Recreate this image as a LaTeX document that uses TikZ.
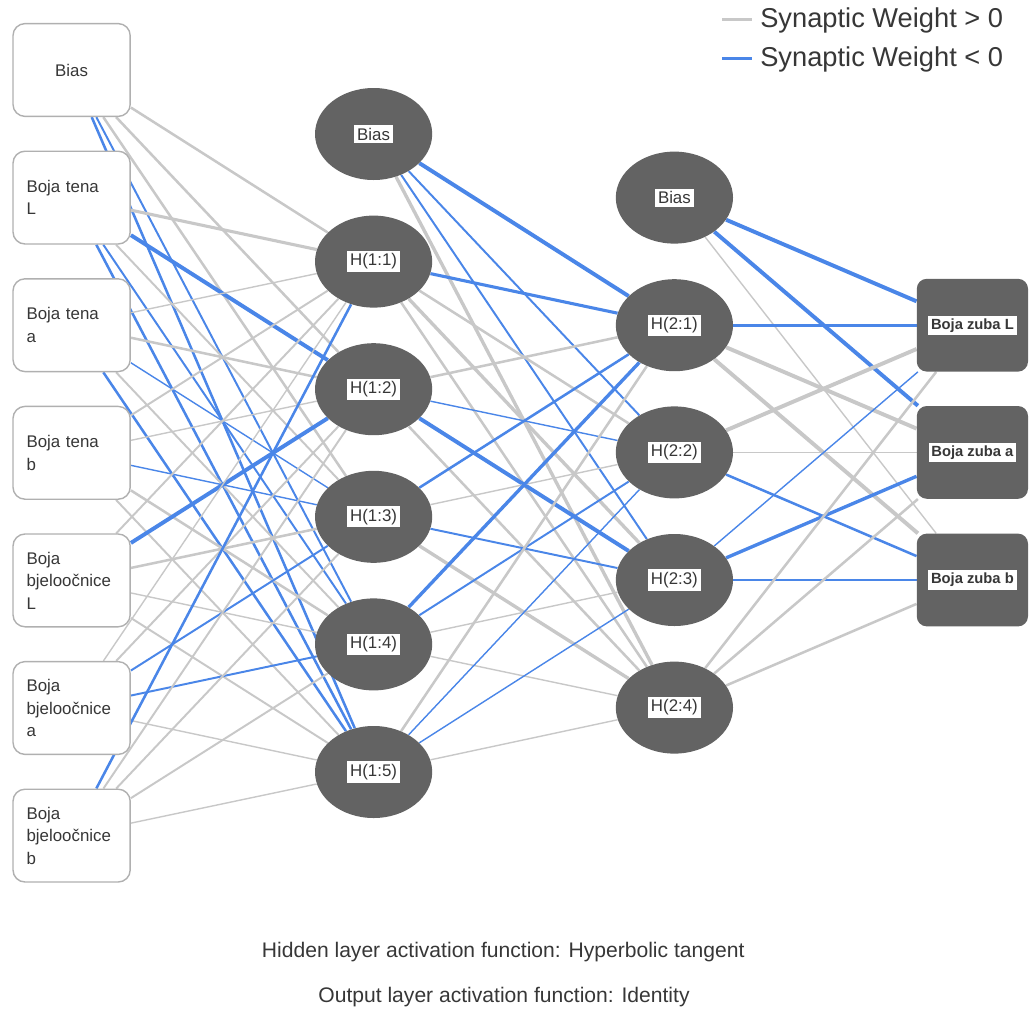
\documentclass[tikz,border=0pt]{standalone}
\usepackage{fontspec}
\setmainfont{Liberation Sans}
\usetikzlibrary{shapes.geometric,backgrounds}
\definecolor{wgray}{RGB}{200,200,200}
\definecolor{wblue}{RGB}{74,134,232}
\definecolor{ngray}{RGB}{99,99,99}
\definecolor{bgray}{RGB}{176,176,176}
\definecolor{tgray}{RGB}{55,55,55}
\newcommand{\wlab}[1]{{\setlength{\fboxsep}{2pt}\colorbox{white}{#1}}}

\begin{document}
\begin{tikzpicture}[
    inbox/.style={draw=bgray, line width=1pt, fill=white, rounded corners=0.3cm,
      minimum width=2.93cm, minimum height=2.32cm, text width=2.25cm, align=left,
      font=\fontsize{12}{16}\selectfont, text=tgray},
    hid/.style={ellipse, fill=ngray, minimum width=2.93cm, minimum height=2.3cm,
      inner sep=0pt, font=\fontsize{12}{14}\selectfont, text=tgray},
    outbox/.style={fill=ngray, rounded corners=0.25cm, minimum width=2.78cm,
      minimum height=2.32cm, inner sep=0pt, font=\bfseries\fontsize{10.5}{12}\selectfont, text=tgray},
    wpos/.style={draw=wgray, line width=#1},
    wneg/.style={draw=wblue, line width=#1},
    note/.style={font=\fontsize{15}{18}\selectfont, text=tgray},
    key/.style={anchor=west, inner sep=0pt, font=\fontsize{19.4}{23}\selectfont, text=tgray}
  ]
    \useasboundingbox (0,0) rectangle (25.725,-25.225);
    \node [inbox, align=center] (i0) at (1.79, -1.75) {Bias};
    \node [inbox] (i1) at (1.79, -4.94) {Boja tena\\L};
    \node [inbox] (i2) at (1.79, -8.13) {Boja tena\\a};
    \node [inbox] (i3) at (1.79,-11.32) {Boja tena\\b};
    \node [inbox] (i4) at (1.79,-14.51) {Boja\\bjeloočnice\\L};
    \node [inbox] (i5) at (1.79,-17.70) {Boja\\bjeloočnice\\a};
    \node [inbox] (i6) at (1.79,-20.89) {Boja\\bjeloočnice\\b};
    \node [hid] (h0) at (9.34, -3.35) {\wlab{Bias}};
    \node [hid] (h1) at (9.34, -6.54) {\wlab{H(1:1)}};
    \node [hid] (h2) at (9.34, -9.73) {\wlab{H(1:2)}};
    \node [hid] (h3) at (9.34,-12.92) {\wlab{H(1:3)}};
    \node [hid] (h4) at (9.34,-16.11) {\wlab{H(1:4)}};
    \node [hid] (h5) at (9.34,-19.30) {\wlab{H(1:5)}};
    \node [hid] (k0) at (16.86, -4.94) {\wlab{Bias}};
    \node [hid] (k1) at (16.86, -8.13) {\wlab{H(2:1)}};
    \node [hid] (k2) at (16.86,-11.31) {\wlab{H(2:2)}};
    \node [hid] (k3) at (16.86,-14.50) {\wlab{H(2:3)}};
    \node [hid] (k4) at (16.86,-17.69) {\wlab{H(2:4)}};
    \node [outbox] (o1) at (24.31, -8.13) {\wlab{Boja zuba L}};
    \node [outbox] (o2) at (24.31,-11.31) {\wlab{Boja zuba a}};
    \node [outbox] (o3) at (24.31,-14.50) {\wlab{Boja zuba b}};
    \begin{scope}[on background layer]
    \draw [wpos=1.8pt] (i0) -- (h1);
    \draw [wpos=1.8pt] (i0) -- (h2);
    \draw [wpos=1.8pt] (i0) -- (h3);
    \draw [wneg=1.4pt] (i0) -- (h4);
    \draw [wneg=1.8pt] (i0) -- (h5);
    \draw [wpos=2.2pt] (i1) -- (h1);
    \draw [wneg=2.8pt] (i1) -- (h2);
    \draw [wpos=1.4pt] (i1) -- (h3);
    \draw [wneg=1.4pt] (i1) -- (h4);
    \draw [wneg=1.8pt] (i1) -- (h5);
    \draw [wpos=1.0pt] (i2) -- (h1);
    \draw [wpos=1.8pt] (i2) -- (h2);
    \draw [wneg=1.0pt] (i2) -- (h3);
    \draw [wpos=1.4pt] (i2) -- (h4);
    \draw [wneg=1.8pt] (i2) -- (h5);
    \draw [wpos=1.4pt] (i3) -- (h1);
    \draw [wpos=1.0pt] (i3) -- (h2);
    \draw [wneg=1.0pt] (i3) -- (h3);
    \draw [wpos=1.8pt] (i3) -- (h4);
    \draw [wpos=1.4pt] (i3) -- (h5);
    \draw [wpos=1.4pt] (i4) -- (h1);
    \draw [wneg=2.8pt] (i4) -- (h2);
    \draw [wpos=1.8pt] (i4) -- (h3);
    \draw [wpos=1.0pt] (i4) -- (h4);
    \draw [wpos=1.4pt] (i4) -- (h5);
    \draw [wpos=1.0pt] (i5) -- (h1);
    \draw [wpos=1.4pt] (i5) -- (h2);
    \draw [wneg=1.4pt] (i5) -- (h3);
    \draw [wneg=1.4pt] (i5) -- (h4);
    \draw [wpos=1.0pt] (i5) -- (h5);
    \draw [wneg=1.8pt] (i6) -- (h1);
    \draw [wpos=1.4pt] (i6) -- (h2);
    \draw [wpos=1.4pt] (i6) -- (h3);
    \draw [wpos=1.4pt] (i6) -- (h4);
    \draw [wpos=1.0pt] (i6) -- (h5);
    \draw [wneg=2.8pt] (h0) -- (k1);
    \draw [wneg=1.4pt] (h0) -- (k2);
    \draw [wneg=1.4pt] (h0) -- (k3);
    \draw [wpos=2.4pt] (h0) -- (k4);
    \draw [wneg=2.2pt] (h1) -- (k1);
    \draw [wpos=1.8pt] (h1) -- (k2);
    \draw [wpos=2.4pt] (h1) -- (k3);
    \draw [wpos=1.8pt] (h1) -- (k4);
    \draw [wpos=1.8pt] (h2) -- (k1);
    \draw [wneg=1.0pt] (h2) -- (k2);
    \draw [wneg=2.8pt] (h2) -- (k3);
    \draw [wpos=1.8pt] (h2) -- (k4);
    \draw [wneg=1.8pt] (h3) -- (k1);
    \draw [wpos=1.0pt] (h3) -- (k2);
    \draw [wneg=1.4pt] (h3) -- (k3);
    \draw [wpos=2.4pt] (h3) -- (k4);
    \draw [wneg=2.4pt] (h4) -- (k1);
    \draw [wneg=1.4pt] (h4) -- (k2);
    \draw [wpos=1.0pt] (h4) -- (k3);
    \draw [wpos=1.0pt] (h4) -- (k4);
    \draw [wpos=1.8pt] (h5) -- (k1);
    \draw [wneg=1.0pt] (h5) -- (k2);
    \draw [wneg=1.0pt] (h5) -- (k3);
    \draw [wpos=1.0pt] (h5) -- (k4);
    \draw [wneg=2.8pt] (k0) -- (o1);
    \draw [wneg=2.8pt] (k0) -- (o2);
    \draw [wpos=1.0pt] (k0) -- (o3);
    \draw [wneg=2.2pt] (k1) -- (o1);
    \draw [wpos=2.8pt] (k1) -- (o2);
    \draw [wpos=2.8pt] (k1) -- (o3);
    \draw [wpos=2.8pt] (k2) -- (o1);
    \draw [wpos=1.0pt] (k2) -- (o2);
    \draw [wneg=1.8pt] (k2) -- (o3);
    \draw [wneg=1.0pt] (k3) -- (o1);
    \draw [wneg=2.4pt] (k3) -- (o2);
    \draw [wneg=1.8pt] (k3) -- (o3);
    \draw [wpos=1.8pt] (k4) -- (o1);
    \draw [wpos=1.8pt] (k4) -- (o2);
    \draw [wpos=1.8pt] (k4) -- (o3);
    \end{scope}
    \coordinate (l1) at (18.05,-0.48);
    \coordinate (l2) at (18.80,-0.48);
    \coordinate (l3) at (18.05,-1.46);
    \coordinate (l4) at (18.80,-1.46);
    \draw [wpos=2.2pt] (l1) -- (l2);
    \draw [wneg=2.2pt] (l3) -- (l4);
    \node [key] (g1) at (19.00,-0.50) {Synaptic Weight > 0};
    \node [key] (g2) at (19.00,-1.48) {Synaptic Weight < 0};
    \node [note] (n1) at (12.58,-23.80) {Hidden layer activation function: Hyperbolic tangent};
    \node [note] (n2) at (12.60,-24.93) {Output layer activation function: Identity};
  \end{tikzpicture}
\end{document}
